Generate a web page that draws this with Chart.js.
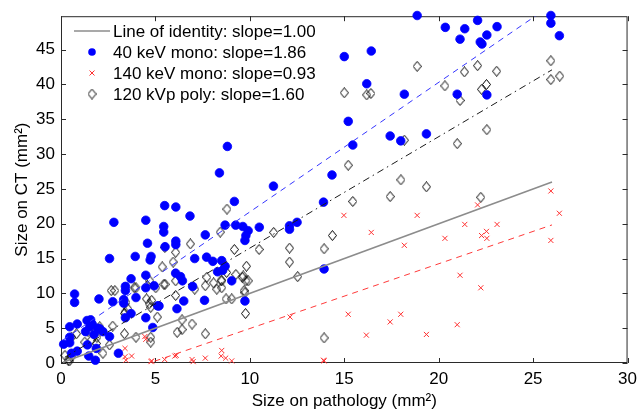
<!DOCTYPE html>
<html>
<head>
<meta charset="utf-8">
<script src="https://cdn.jsdelivr.net/npm/chart.js@4.4.1/dist/chart.umd.min.js"></script>
<style>
  html, body { margin: 0; padding: 0; background: #fff; }
  #wrap { width: 643px; height: 413px; }
</style>
</head>
<body>
<div id="wrap"><canvas id="grafico" width="643" height="413"></canvas></div>
<script>
// ejes
const xTicks = [0, 5, 10, 15, 20, 25, 30];
const yTicks = [0, 5, 10, 15, 20, 25, 30, 35, 40, 45];
const xTitle = 'Size on pathology (mm\u00B2)';
const yTitle = 'Size on CT (mm\u00B2)';

// leyenda
const seriesLabels = [
  'Line of identity: slope=1.00',
  '40 keV mono: slope=1.86',
  '140 keV mono: slope=0.93',
  '120 kVp poly: slope=1.60'
];

// rectas de ajuste (identidad, 40 keV, 140 keV, 120 kVp)
const fitSlopes = [1.00, 1.86, 0.93, 1.60];
const fitIntercepts = [0, 3.1, -4.35, 0.5];
const fitFrom = [0.1, 0.1, 3.3, 0.2];
const fitTo = [26, 26, 26, 26];

// 40 keV mono
const kev40X = [18.86,20.35,21.38,22.06,23.09,21.13,22.55,22.20,22.29,25.94,
  25.94,26.39,15.00,16.43,16.19,18.18,20.98,22.55,15.21,17.43,
  17.99,19.35,15.45,14.35,13.90,8.81,8.39,11.25,9.18,13.93,
  12.10,12.10,12.50,5.49,6.08,6.83,2.80,4.49,5.44,5.44,
  7.64,8.69,9.25,9.63,9.91,10.50,9.79,9.74,4.58,6.08,
  6.08,5.51,2.57,4.77,4.72,3.93,7.08,7.71,8.04,8.51,
  8.69,8.56,8.29,6.07,6.33,6.43,4.49,3.71,3.41,3.41,
  4.49,6.97,9.04,0.72,0.72,2.01,2.74,3.97,3.32,3.32,
  6.50,5.12,7.60,9.74,6.14,3.41,4.49,4.86,2.57,3.04,
  0.14,0.46,0.46,0.86,0.46,0.56,0.86,1.38,1.52,1.82,
  1.40,1.47,2.05,2.22,1.75,1.57,1.87,1.30,1.65,1.95,
  3.71,4.93,5.19];
const kev40Y = [49.9,48.2,48.0,49.2,48.3,46.5,47.1,46.1,45.8,49.9,
  48.8,47.0,44.0,44.8,40.1,38.6,38.6,38.5,34.7,32.6,
  31.9,32.9,31.3,27.0,23.1,31.1,27.3,25.4,23.2,13.5,
  19.7,19.2,20.2,22.6,22.4,21.1,20.2,20.5,19.6,18.8,
  18.4,19.8,19.8,19.6,19.0,19.5,18.3,17.6,17.2,17.5,
  17.0,16.7,15.0,15.3,14.8,15.3,15.0,15.2,14.6,14.7,
  13.9,13.3,13.1,12.9,12.4,11.8,12.6,12.1,11.0,10.4,
  10.8,11.0,11.8,9.9,8.7,9.2,8.8,9.4,9.1,8.6,
  8.9,8.2,9.0,8.9,7.8,6.5,6.5,5.1,3.8,1.4,
  2.7,2.9,5.2,5.6,3.7,1.4,1.7,6.1,5.2,0.4,
  2.6,1.0,4.9,4.5,4.1,6.2,2.1,4.5,5.6,5.0,
  7.1,11.1,8.2];

// 140 keV mono
const kev140X = [25.94,26.39,25.94,22.06,14.98,18.86,16.43,21.38,23.09,20.33,
  22.27,22.53,22.55,18.18,21.13,22.23,15.21,17.43,17.99,16.17,
  19.35,20.98,13.93,4.44,4.49,3.39,3.39,3.44,3.74,4.77,
  4.80,5.49,6.03,6.10,6.94,7.00,7.64,8.51,8.48,8.72,
  9.04,12.13,13.90];
const kev140Y = [24.7,21.5,17.6,22.7,21.2,21.2,18.75,19.9,19.9,17.9,
  18.3,18.9,17.9,16.9,12.6,10.8,7.0,5.9,7.0,4.0,
  4.1,5.5,0.3,3.8,3.4,2.1,0.9,0.4,1.0,0.2,
  0.3,0.5,1.0,1.1,0.5,0.2,0.7,1.8,1.0,0.7,
  0.3,6.6,0.4];

// 120 kVp poly
const kvpX = [18.86,20.33,21.36,22.06,23.07,22.27,22.53,21.13,25.94,25.94,
  26.41,15.00,16.19,16.41,22.55,20.98,18.18,15.21,18.00,17.43,
  19.35,22.23,15.45,14.37,13.93,12.53,13.93,12.10,12.10,8.79,
  8.43,11.26,9.18,10.49,6.07,6.85,5.94,5.36,5.51,6.07,
  6.07,7.08,7.72,7.64,8.08,8.25,8.51,8.77,9.26,9.65,
  9.79,9.82,9.70,8.74,9.04,9.77,6.41,6.94,6.15,6.41,
  7.64,5.10,4.75,4.75,4.75,4.53,4.80,5.02,4.58,4.70,
  3.97,3.44,3.53,3.36,3.36,3.97,2.66,2.85,2.74,2.57,
  2.22,2.05,1.90,1.87,1.61,1.43,1.26,0.82,0.56,0.21,
  0.38,0.45,0.56,3.88,5.45,4.67,3.39,1.87,8.48,8.51,
  9.60,9.91,9.74,5.50];
const kvpY = [42.6,39.8,41.8,42.7,41.9,39.3,40.0,37.7,43.4,40.7,
  41.2,38.8,38.5,38.7,33.5,31.5,32.0,28.4,26.3,23.9,
  25.3,23.8,23.2,18.3,16.4,12.4,3.6,16.5,14.5,22.1,
  18.8,18.75,16.3,16.3,15.9,17.1,14.5,13.8,11.3,11.8,
  9.7,10.6,12.3,11.1,11.5,10.6,11.8,13.0,12.7,12.5,
  11.8,13.9,10.4,9.2,9.2,7.1,6.2,5.6,4.4,4.8,
  4.2,6.6,3.0,3.7,8.0,9.2,9.0,10.8,11.1,11.8,
  10.8,8.7,7.8,7.1,4.2,3.7,10.4,10.4,5.3,2.6,
  1.4,5.2,3.7,2.8,3.3,4.5,3.0,4.2,3.7,1.1,
  0.4,0.3,0.9,10.8,11.3,8.5,7.3,4.7,11.9,10.8,
  12.3,11.8,10.1,16.6];

const FONT = 'Liberation Sans, Arial, sans-serif';
const colores = ['#8c8c8c', '#3535ff', '#ff3a3a', '#1a1a1a'];

// diamante algo más alto que ancho, como el marcador de MATLAB
function diamante(w, h) {
  const c = document.createElement('canvas');
  c.width = w; c.height = h;
  const g = c.getContext('2d');
  g.strokeStyle = '#000';
  g.lineWidth = 1;
  g.beginPath();
  g.moveTo(w / 2, 0.5);
  g.lineTo(w - 0.5, h / 2);
  g.lineTo(w / 2, h - 0.5);
  g.lineTo(0.5, h / 2);
  g.closePath();
  g.stroke();
  return c;
}
const diamImg = diamante(9, 11);

const puntos = (xs, ys) => xs.map((x, i) => ({ x: x, y: ys[i] }));
const recta = i => [fitFrom[i], fitTo[i]].map(x => ({ x: x, y: fitSlopes[i] * x + fitIntercepts[i] }));

const dashes = [[], [6, 5], [6, 5], [7, 4, 1.5, 4]];
const lineas = fitSlopes.map((s, i) => ({
  label: seriesLabels[i],
  data: recta(i),
  showLine: true,
  borderColor: colores[i],
  borderWidth: i === 0 ? 1.6 : 1,
  borderDash: dashes[i],
  pointRadius: 0,
  fill: false
}));

const marcos = {
  id: 'marcos',
  beforeDatasetsDraw(chart) {
    const { ctx, chartArea: a, scales: { x, y } } = chart;
    const tl = 5;
    ctx.save();
    ctx.strokeStyle = '#2a2a2a';
    ctx.lineWidth = 1;
    ctx.beginPath();
    xTicks.forEach(v => {
      const px = Math.round(x.getPixelForValue(v)) + 0.5;
      ctx.moveTo(px, a.bottom); ctx.lineTo(px, a.bottom - tl);
      ctx.moveTo(px, a.top); ctx.lineTo(px, a.top + tl);
    });
    yTicks.forEach(v => {
      const py = Math.round(y.getPixelForValue(v)) + 0.5;
      ctx.moveTo(a.left, py); ctx.lineTo(a.left + tl, py);
      ctx.moveTo(a.right, py); ctx.lineTo(a.right - tl, py);
    });
    ctx.stroke();
    ctx.strokeRect(a.left + 0.5, a.top + 0.5, a.width - 1, a.height - 1);
    ctx.restore();
  },
  afterDraw(chart) {
    const ctx = chart.ctx;
    const filas = [31, 52, 73, 94];
    const mx = 92, tx = 113;
    ctx.save();
    ctx.font = '17px ' + FONT;
    ctx.fillStyle = '#000';
    ctx.textBaseline = 'middle';
    seriesLabels.forEach((t, i) => ctx.fillText(t, tx, filas[i] + 1));
    // muestra de la línea de identidad
    ctx.strokeStyle = colores[0];
    ctx.lineWidth = 1.6;
    ctx.beginPath(); ctx.moveTo(74, filas[0]); ctx.lineTo(110, filas[0]); ctx.stroke();
    // punto azul
    ctx.fillStyle = '#0000ff';
    ctx.beginPath(); ctx.arc(mx, filas[1], 3.8, 0, Math.PI * 2); ctx.fill();
    // cruz roja
    ctx.strokeStyle = '#ff3030';
    ctx.lineWidth = 1;
    ctx.beginPath();
    ctx.moveTo(mx - 2.5, filas[2] - 2.5); ctx.lineTo(mx + 2.5, filas[2] + 2.5);
    ctx.moveTo(mx + 2.5, filas[2] - 2.5); ctx.lineTo(mx - 2.5, filas[2] + 2.5);
    ctx.stroke();
    // diamante
    ctx.drawImage(diamImg, mx - 4.5, filas[3] - 5.5);
    ctx.restore();
  }
};

Chart.defaults.font.family = FONT;
Chart.defaults.font.size = 17;
Chart.defaults.color = '#000';

new Chart(document.getElementById('grafico'), {
  type: 'scatter',
  data: {
    datasets: [
      ...lineas,
      {
        label: seriesLabels[1],
        data: puntos(kev40X, kev40Y),
        pointStyle: 'circle',
        pointRadius: 4.3,
        borderWidth: 0.8,
        backgroundColor: '#0000ff',
        borderColor: '#0000ff',
        clip: false
      },
      {
        label: seriesLabels[2],
        data: puntos(kev140X, kev140Y),
        pointStyle: 'crossRot',
        pointRadius: 3.6,
        borderWidth: 1,
        borderColor: '#ff3030',
        clip: false
      },
      {
        label: seriesLabels[3],
        data: puntos(kvpX, kvpY),
        pointStyle: diamImg,
        clip: false
      }
    ]
  },
  options: {
    responsive: false,
    animation: false,
    events: [],
    layout: { padding: { top: 12, right: 10, left: 0, bottom: 0 } },
    plugins: { legend: { display: false }, tooltip: { enabled: false } },
    scales: {
      x: {
        type: 'linear', min: 0, max: 30,
        afterBuildTicks: s => { s.ticks = xTicks.map(v => ({ value: v })); },
        afterFit: s => { s.height = 50; },
        grid: { display: false, drawTicks: false },
        border: { display: false },
        ticks: { padding: 6, maxRotation: 0, autoSkip: false },
        title: { display: true, text: xTitle, padding: 1, font: { size: 17 } }
      },
      y: {
        type: 'linear', min: 0, max: 49.8,
        afterBuildTicks: s => { s.ticks = yTicks.map(v => ({ value: v })); },
        afterFit: s => { s.width = 61; },
        grid: { display: false, drawTicks: false },
        border: { display: false },
        ticks: { padding: 6, autoSkip: false },
        title: { display: true, text: yTitle, padding: 12, font: { size: 17 } }
      }
    }
  },
  plugins: [marcos]
});
</script>
</body>
</html>
